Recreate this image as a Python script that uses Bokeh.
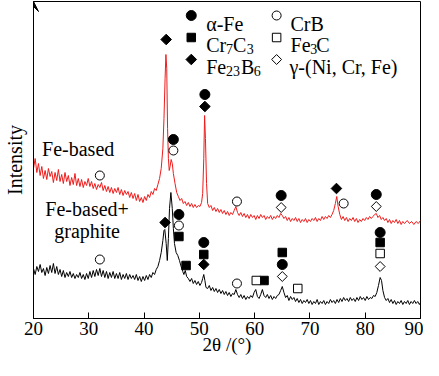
from bokeh.plotting import figure
from bokeh.models import Range1d, Arrow, VeeHead, FixedTicker
from bokeh.core.properties import value
from bokeh.embed import file_html
from bokeh.resources import INLINE

FONT = "Liberation Serif"

# ---- data: 2theta (deg) and intensity (a.u.) ----
fe_x = [20.0, 20.3, 20.6, 20.9, 21.2, 21.5, 21.8, 22.1, 22.4, 22.7, 23.0, 23.3, 23.6, 23.9, 24.2, 24.5, 24.8, 25.1, 25.4, 25.7,
        26.0, 26.3, 26.6, 26.9, 27.2, 27.5, 27.8, 28.1, 28.4, 28.7, 29.0, 29.3, 29.6, 29.9, 30.2, 30.5, 30.8, 31.1, 31.4, 31.7,
        32.0, 32.3, 32.6, 32.9, 33.2, 33.5, 33.8, 34.1, 34.4, 34.7, 35.0, 35.3, 35.6, 35.9, 36.2, 36.5, 36.8, 37.1, 37.4, 37.7,
        38.0, 38.3, 38.6, 38.9, 39.2, 39.5, 39.8, 40.1, 40.4, 40.7, 41.0, 41.3, 41.6, 41.9, 42.2, 42.5, 42.8, 43.1, 43.4, 43.6,
        43.8, 43.95, 44.1, 44.25, 44.4, 44.55, 44.7, 44.9, 45.1, 45.3, 45.6, 45.9, 46.2, 46.5, 46.8, 47.1, 47.4, 47.7, 48.0, 48.3,
        48.6, 48.9, 49.2, 49.5, 49.8, 50.1, 50.4, 50.6, 50.8, 50.95, 51.1, 51.3, 51.5, 51.8, 52.1, 52.4, 52.7, 53.0, 53.3, 53.6,
        53.9, 54.2, 54.5, 54.8, 55.1, 55.4, 55.7, 56.0, 56.3, 56.6, 56.9, 57.2, 57.5, 57.8, 58.1, 58.4, 58.7, 59.0, 59.3, 59.6,
        59.9, 60.2, 60.5, 60.8, 61.1, 61.4, 61.7, 62.0, 62.3, 62.6, 62.9, 63.2, 63.5, 63.8, 64.1, 64.4, 64.7, 65.0, 65.3, 65.6,
        65.9, 66.2, 66.5, 66.8, 67.1, 67.4, 67.7, 68.0, 68.3, 68.6, 68.9, 69.2, 69.5, 69.8, 70.1, 70.4, 70.7, 71.0, 71.3, 71.6,
        71.9, 72.2, 72.5, 72.8, 73.1, 73.4, 73.7, 74.0, 74.3, 74.6, 74.85, 75.1, 75.4, 75.7, 76.0, 76.3, 76.6, 76.9, 77.2, 77.5,
        77.8, 78.1, 78.4, 78.7, 79.0, 79.3, 79.6, 79.9, 80.2, 80.5, 80.8, 81.1, 81.4, 81.7, 82.0, 82.3, 82.6, 82.9, 83.2, 83.5,
        83.8, 84.1, 84.4, 84.7, 85.0, 85.3, 85.6, 85.9, 86.2, 86.5, 86.8, 87.1, 87.6, 88.0, 88.4, 88.8, 89.2, 89.6, 90.0]
fe_y = [150, 160, 146, 155, 143, 152, 140, 148, 139, 150, 142, 147, 136, 146, 138, 149, 137, 144, 135, 146,
        137, 143, 133, 141, 134, 145, 133, 140, 132, 139, 131, 137, 133, 140, 132, 137, 130, 135, 129, 134,
        131, 136, 128, 133, 127, 132, 126, 131, 125, 130, 126, 131, 124, 129, 123, 128, 124, 127, 121, 126,
        120, 125, 118, 124, 117, 121, 116, 122, 118, 124, 121, 127, 124, 130, 128, 134, 140, 150, 170, 200,
        240, 264, 250, 190, 160, 148, 152, 159, 155, 145, 135, 126, 122, 118, 120, 115, 117, 113, 116, 112,
        115, 111, 114, 111, 113, 112, 116, 125, 160, 203, 180, 135, 115, 111, 113, 108, 111, 107, 110, 106,
        109, 105, 108, 104, 107, 103, 106, 104, 108, 112, 106, 103, 106, 102, 105, 101, 104, 100, 104, 101,
        103, 99, 103, 100, 104, 101, 103, 99, 102, 100, 103, 99, 102, 100, 103, 101, 105, 103, 100, 102,
        98, 101, 97, 100, 98, 101, 97, 100, 96, 99, 97, 100, 96, 99, 97, 100, 98, 101, 97, 100,
        98, 102, 99, 102, 100, 103, 101, 104, 108, 115, 122, 112, 104, 99, 102, 98, 101, 97, 100, 98,
        101, 97, 100, 96, 99, 97, 100, 98, 101, 99, 102, 100, 102, 104, 105, 101, 103, 99, 101, 98,
        100, 96, 99, 95, 98, 96, 99, 95, 98, 94, 97, 95, 98, 95, 97, 94, 97, 95, 98]

feg_x = [20.0, 20.3, 20.6, 20.9, 21.2, 21.5, 21.8, 22.1, 22.4, 22.7, 23.0, 23.3, 23.6, 23.9, 24.2, 24.5, 24.8, 25.1, 25.4, 25.7,
         26.0, 26.3, 26.6, 26.9, 27.2, 27.5, 27.8, 28.1, 28.4, 28.7, 29.0, 29.3, 29.6, 29.9, 30.2, 30.5, 30.8, 31.1, 31.4, 31.7,
         32.0, 32.3, 32.6, 32.9, 33.2, 33.5, 33.8, 34.1, 34.4, 34.7, 35.0, 35.3, 35.6, 35.9, 36.2, 36.5, 36.8, 37.1, 37.4, 37.7,
         38.0, 38.3, 38.6, 38.9, 39.2, 39.5, 39.8, 40.1, 40.4, 40.7, 41.0, 41.3, 41.6, 41.9, 42.2, 42.5, 42.8, 43.1, 43.4, 43.6,
         43.75, 44.0, 44.2, 44.4, 44.6, 44.85, 45.1, 45.3, 45.5, 45.8, 46.1, 46.4, 46.7, 47.0, 47.2, 47.45, 47.7, 48.0, 48.3, 48.6,
         48.9, 49.2, 49.5, 49.8, 50.1, 50.4, 50.6, 50.8, 51.0, 51.2, 51.5, 51.8, 52.1, 52.4, 52.7, 53.0, 53.3, 53.6, 53.9, 54.2,
         54.5, 54.8, 55.1, 55.4, 55.7, 56.0, 56.3, 56.6, 56.9, 57.2, 57.5, 57.8, 58.1, 58.4, 58.7, 59.0, 59.3, 59.6, 59.9, 60.2,
         60.5, 60.8, 61.1, 61.4, 61.7, 62.0, 62.3, 62.6, 62.9, 63.2, 63.5, 63.8, 64.1, 64.4, 64.7, 65.0, 65.3, 65.6, 65.9, 66.2,
         66.5, 66.8, 67.1, 67.4, 67.7, 68.0, 68.3, 68.6, 68.9, 69.2, 69.5, 69.8, 70.1, 70.4, 70.7, 71.0, 71.3, 71.6, 71.9, 72.2,
         72.5, 72.8, 73.1, 73.4, 73.7, 74.0, 74.3, 74.6, 74.9, 75.2, 75.5, 75.8, 76.1, 76.4, 76.7, 77.0, 77.3, 77.6, 77.9, 78.2,
         78.5, 78.8, 79.1, 79.4, 79.7, 80.0, 80.3, 80.6, 80.9, 81.2, 81.5, 81.8, 82.1, 82.4, 82.7, 82.95, 83.2, 83.5, 83.8, 84.1,
         84.4, 84.7, 85.0, 85.3, 85.6, 85.9, 86.2, 86.5, 86.8, 87.1, 87.4, 87.7, 88.0, 88.3, 88.6, 88.9, 89.2, 89.5, 89.8, 90.0]
feg_y = [50, 44, 52, 47, 54, 46, 50, 43, 51, 45, 53, 46, 55, 45, 52, 44, 49, 42, 48, 41,
         46, 42, 47, 41, 45, 40, 44, 41, 46, 40, 44, 39, 45, 40, 47, 41, 48, 42, 49, 43,
         50, 42, 48, 41, 47, 40, 46, 41, 47, 40, 45, 40, 46, 39, 44, 40, 45, 39, 44, 40,
         43, 39, 44, 38, 42, 37, 42, 38, 43, 39, 44, 41, 46, 44, 49, 52, 58, 66, 78, 88,
         89, 75, 58, 80, 110, 126, 110, 90, 75, 66, 63, 58, 52, 47, 44, 48, 42, 40, 37, 40,
         35, 38, 34, 37, 33, 36, 40, 44, 38, 31, 30, 33, 28, 31, 27, 30, 26, 29, 25, 28,
         24, 27, 23, 26, 22, 25, 24, 29, 24, 21, 24, 20, 23, 19, 22, 20, 23, 21, 26, 29,
         22, 20, 24, 29, 23, 21, 24, 20, 23, 19, 22, 20, 23, 24, 28, 32, 26, 21, 23, 18,
         22, 19, 21, 17, 20, 16, 19, 15, 18, 16, 19, 15, 18, 14, 17, 15, 19, 14, 17, 15,
         18, 14, 17, 15, 19, 16, 18, 15, 19, 16, 20, 17, 21, 18, 20, 17, 21, 18, 20, 17,
         21, 18, 22, 19, 21, 18, 22, 19, 21, 20, 23, 22, 26, 33, 41, 38, 28, 21, 18, 20,
         16, 19, 15, 18, 14, 17, 15, 18, 14, 17, 15, 18, 14, 17, 15, 18, 15, 17, 14, 16]

# phase markers (2theta, height)
alpha_fe_x = [45.3, 51.0, 64.8, 82.0, 46.3, 50.8, 65.0, 82.7]
alpha_fe_y = [179, 224, 123, 124, 104, 76, 54, 86]
crb_x = [32.0, 45.3, 56.8, 76.1, 32.0, 46.3, 56.8]
crb_y = [143, 168, 117, 115, 59, 93, 35]
cr7c3_x = [46.3, 47.6, 50.8, 61.7, 65.0, 82.7]
cr7c3_y = [82, 53, 64, 38, 66, 76]
fe3c_x = [60.3, 67.8, 82.7]
fe3c_y = [38, 30, 65]
fe23b6_x = [44.0, 51.0, 74.8, 43.8, 50.8]
fe23b6_y = [279, 212, 130, 96, 54]
gamma_x = [64.8, 82.0, 65.0, 82.7]
gamma_y = [111, 112, 42, 52]

x_ticks = [20, 30, 40, 50, 60, 70, 80, 90]

p = figure(width=423, height=360, output_backend="svg", toolbar_location=None,
           x_range=Range1d(20, 90), y_range=Range1d(0, 317), title=None,
           min_border_left=30, min_border_right=3, min_border_top=1, min_border_bottom=42)
p.background_fill_color = "white"
p.border_fill_color = "white"
p.outline_line_color = "black"
p.outline_line_width = 1
p.grid.visible = False

p.xaxis.ticker = FixedTicker(ticks=x_ticks)
p.xaxis.major_tick_in = 6
p.xaxis.major_tick_out = 0
p.xaxis.minor_tick_line_color = None
p.xaxis.major_label_text_font = FONT
p.xaxis.major_label_text_font_size = "19px"
p.xaxis.major_label_text_color = "black"
p.xaxis.major_label_standoff = 3
p.xaxis.axis_line_color = "black"
p.xaxis.major_tick_line_color = "black"
p.xaxis.axis_label = "2\u03b8 /(\u00b0)"
p.xaxis.axis_label_text_font = FONT
p.xaxis.axis_label_text_font_size = "19px"
p.xaxis.axis_label_text_font_style = "normal"
p.xaxis.axis_label_text_color = "black"
p.xaxis.axis_label_standoff = -4

p.yaxis.ticker = FixedTicker(ticks=[])
p.yaxis.major_tick_line_color = None
p.yaxis.minor_tick_line_color = None
p.yaxis.major_label_text_color = None
p.yaxis.axis_label = "Intensity"
p.yaxis.axis_label_text_font = FONT
p.yaxis.axis_label_text_font_size = "20px"
p.yaxis.axis_label_text_font_style = "normal"
p.yaxis.axis_label_text_color = "black"
p.yaxis.axis_label_standoff = 8
p.yaxis.axis_line_color = "black"

p.add_layout(Arrow(end=VeeHead(size=10, fill_color="black", line_color="black"),
                   x_start=20, y_start=0, x_end=20, y_end=317, line_color="black", line_width=1))

p.line(fe_x, fe_y, line_color="#ee1c1c", line_width=1)
p.line(feg_x, feg_y, line_color="black", line_width=1)

def filled(marker, xs, ys, size, angle=0.0):
    p.scatter(xs, ys, marker=marker, size=size, angle=angle, fill_color="black", line_color="black", line_width=1)

def hollow(marker, xs, ys, size, angle=0.0):
    p.scatter(xs, ys, marker=marker, size=size, angle=angle, fill_color="white", line_color="black", line_width=1)

D = 0.785398
filled("circle", alpha_fe_x, alpha_fe_y, 10)
hollow("circle", crb_x, crb_y, 9)
filled("square", cr7c3_x, cr7c3_y, 8.5)
hollow("square", fe3c_x, fe3c_y, 8.5)
filled("square", fe23b6_x, fe23b6_y, 7.5, D)
hollow("square", gamma_x, gamma_y, 7, D)

# legend (inside frame, top right)
def px2x(px):
    return (px - 38) / 5.5714 + 20

def py2y(py):
    return 326 - py

filled("circle", [px2x(197)], [py2y(23)], 10)
filled("square", [px2x(197)], [py2y(45)], 8.5)
filled("square", [px2x(197)], [py2y(67)], 7.5, D)
hollow("circle", [px2x(283)], [py2y(23)], 9)
hollow("square", [px2x(283)], [py2y(45)], 8.5)
hollow("square", [px2x(283)], [py2y(67)], 7, D)

def txt(px, py, s, size="20px", baseline="alphabetic", align="left"):
    p.text([px2x(px)], [py2y(py)], text=[s], text_font=value(FONT), text_font_size=size,
           text_baseline=baseline, text_align=align, text_color="black")

# row 1
txt(212, 31, "\u03b1-Fe")
txt(297, 31, "CrB")
# row 2
txt(212, 52, "Cr"); txt(232, 56, "7", "14px"); txt(239, 52, "C"); txt(253, 56, "3", "14px")
txt(297, 52, "Fe"); txt(317, 56, "3", "14px"); txt(323, 52, "C")
# row 3
txt(212, 74, "Fe"); txt(232, 78, "23", "14px"); txt(247, 74, "B"); txt(260, 78, "6", "14px")
txt(296, 74, "\u03b3-(Ni, Cr, Fe)")

# curve labels
txt(83, 156, "Fe-based", baseline="middle", align="center")
txt(92, 216, "Fe-based+", baseline="middle", align="center")
txt(92, 238, "graphite", baseline="middle", align="center")

open("out.html", "w").write(file_html(p, INLINE))
